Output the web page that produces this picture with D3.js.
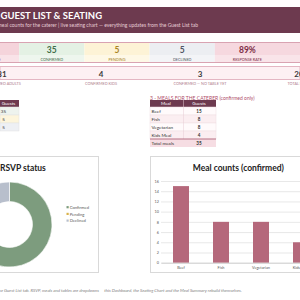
<!DOCTYPE html>
<html>
<head>
<meta charset="utf-8">
<script src="https://cdn.jsdelivr.net/npm/d3@7"></script>
<style>
  body { margin: 0; background: #fff; overflow: hidden; }
  svg { display: block; font-family: Lato, "Open Sans", sans-serif; }
</style>
</head>
<body>
<div id="dash"></div>
<script>
// values
const kpiLabels = ["TOTAL INVITED", "CONFIRMED", "PENDING", "DECLINED", "RESPONSE RATE"];
const kpiValues = ["45", "35", "5", "5", "89%"];
const seatLabels = ["CONFIRMED ADULTS", "CONFIRMED KIDS", "CONFIRMED — NO TABLE YET", "TOTAL SEATS"];
const seatValues = [31, 4, 3, 20];
const rsvpStatus = ["Confirmed", "Pending", "Declined"];
const rsvpCounts = [35, 5, 5];
const meals = ["Beef", "Fish", "Vegetarian", "Kids Meal"];
const mealCounts = [15, 8, 8, 4];
const yTicks = [0, 2, 4, 6, 8, 10, 12, 14, 16];

const W = 300, H = 300;
const maroon = "#6d3a4f";

const svg = d3.select("#dash").append("svg")
    .attr("width", W)
    .attr("height", H);

// header bar
svg.append("rect").attr("x", 0).attr("y", 7).attr("width", W).attr("height", 26).attr("fill", maroon);
svg.append("text").attr("x", 0.5).attr("y", 19)
    .attr("fill", "#fff").attr("font-weight", 700).attr("font-size", 9.5)
    .text("GUEST LIST & SEATING");
svg.append("text").attr("x", 198).attr("y", 26.5).attr("text-anchor", "end")
    .attr("fill", "#e6cbd5").attr("font-size", 5)
    .text("Track RSVPs, meal counts for the caterer  |  live seating chart — everything updates from the Guest List tab");

// KPI row
const kpiBg = ["#f5d4db", "#e4f1e4", "#fdf3d6", "#eceef2", "#f6d8df"];
const kpiLabelBg = ["#f9e3e8", "#eef6ee", "#fef8e6", "#f3f4f7", "#f9e4e9"];
const kpiInk = ["#7b2d46", "#3f6d48", "#a8841f", "#4f5461", "#7b2d46"];
const kx = d3.scaleBand().domain(kpiLabels).range([-46, 280]);
const kpi = svg.append("g").selectAll("g").data(kpiLabels).join("g");
kpi.append("rect")
    .attr("x", d => kx(d)).attr("y", 43)
    .attr("width", (d, i) => i === kpiLabels.length - 1 ? W - kx(d) : kx.bandwidth())
    .attr("height", 12).attr("fill", (d, i) => kpiBg[i]);
kpi.append("rect")
    .attr("x", d => kx(d)).attr("y", 55)
    .attr("width", (d, i) => i === kpiLabels.length - 1 ? W - kx(d) : kx.bandwidth())
    .attr("height", 7).attr("fill", (d, i) => kpiLabelBg[i]);
kpi.append("text")
    .attr("x", d => kx(d) + kx.bandwidth() / 2).attr("y", 53)
    .attr("text-anchor", "middle").attr("font-size", 8.5).attr("font-weight", 700)
    .attr("fill", (d, i) => kpiInk[i])
    .text((d, i) => kpiValues[i]);
kpi.append("text")
    .attr("x", d => kx(d) + kx.bandwidth() / 2).attr("y", 60.5)
    .attr("text-anchor", "middle").attr("font-size", 3.8)
    .attr("fill", (d, i) => kpiInk[i])
    .text(d => d);
svg.append("line").attr("x1", 0).attr("x2", W).attr("y1", 42.5).attr("y2", 42.5).attr("stroke", "#d9a3b2");
svg.append("line").attr("x1", 0).attr("x2", W).attr("y1", 62.5).attr("y2", 62.5).attr("stroke", "#d9a3b2");

// seating row
const sx = d3.scalePoint().domain(seatLabels).range([2, 299]);
svg.append("rect").attr("x", 0).attr("y", 66.5).attr("width", W).attr("height", 13)
    .attr("fill", "#fdf0f3").attr("stroke", "#e4b6c3");
const seat = svg.append("g").selectAll("g").data(seatLabels).join("g");
seat.append("text")
    .attr("x", d => sx(d)).attr("y", 76.5)
    .attr("text-anchor", "middle").attr("font-size", 8).attr("font-weight", 700)
    .attr("fill", "#3a3a3a")
    .text((d, i) => seatValues[i]);
seat.append("text")
    .attr("x", d => sx(d)).attr("y", 85)
    .attr("text-anchor", "middle").attr("font-size", 3.8)
    .attr("fill", "#b07d8c")
    .text(d => d);

// section header for meals
svg.append("text").attr("x", 150).attr("y", 100)
    .attr("fill", "#b04f6b").attr("font-size", 5)
    .text("3 - MEALS FOR THE CATERER (confirmed only)");

// RSVP summary table (mostly off screen)
const rowY = d3.scaleBand().domain(d3.range(5)).range([107, 147]);
svg.append("rect").attr("x", 0).attr("y", 100).attr("width", 19).attr("height", 7).attr("fill", maroon);
svg.append("text").attr("x", 8.5).attr("y", 105.3).attr("text-anchor", "middle")
    .attr("fill", "#fff").attr("font-size", 4.5).text("Guests");
const rsvpRowBg = ["#eef3ee", "#fdf5dc", "#eef0f4"];
const rsvpRow = svg.append("g").selectAll("g").data(rsvpStatus).join("g");
rsvpRow.append("rect")
    .attr("x", 0).attr("y", (d, i) => rowY(i)).attr("width", 19).attr("height", rowY.bandwidth())
    .attr("fill", (d, i) => rsvpRowBg[i]).attr("stroke", "#e2e2e2").attr("stroke-width", 0.5);
rsvpRow.append("text")
    .attr("x", 3.5).attr("y", (d, i) => rowY(i) + 5.6).attr("text-anchor", "middle")
    .attr("font-size", 4.6).attr("fill", "#333")
    .text((d, i) => rsvpCounts[i]);

// meal table
const mt = svg.append("g");
mt.append("rect").attr("x", 150).attr("y", 100).attr("width", 66).attr("height", 7).attr("fill", maroon);
mt.append("text").attr("x", 166).attr("y", 105.3).attr("text-anchor", "middle")
    .attr("fill", "#fff").attr("font-size", 4.5).text("Meal");
mt.append("text").attr("x", 199).attr("y", 105.3).attr("text-anchor", "middle")
    .attr("fill", "#fff").attr("font-size", 4.5).text("Guests");
const mealRow = mt.selectAll("g.row").data(meals).join("g").attr("class", "row");
mealRow.append("rect")
    .attr("x", 150).attr("y", (d, i) => rowY(i)).attr("width", 66).attr("height", rowY.bandwidth())
    .attr("fill", (d, i) => i % 2 ? "#fbeef1" : "#fffafb")
    .attr("stroke", "#eedde2").attr("stroke-width", 0.5);
mealRow.append("text")
    .attr("x", 151.5).attr("y", (d, i) => rowY(i) + 5.6)
    .attr("font-size", 4.6).attr("fill", "#333").text(d => d);
mealRow.append("text")
    .attr("x", 199).attr("y", (d, i) => rowY(i) + 5.6).attr("text-anchor", "middle")
    .attr("font-size", 4.6).attr("font-weight", 700).attr("fill", "#333")
    .text((d, i) => mealCounts[i]);
mt.append("line").attr("x1", 183.5).attr("x2", 183.5).attr("y1", 100).attr("y2", 147).attr("stroke", "#e6cdd4").attr("stroke-width", 0.5);
mt.append("rect").attr("x", 150).attr("y", rowY(4)).attr("width", 66).attr("height", rowY.bandwidth())
    .attr("fill", "#f6dde3");
mt.append("line").attr("x1", 150).attr("x2", 216).attr("y1", rowY(4)).attr("y2", rowY(4))
    .attr("stroke", "#a85870").attr("stroke-width", 0.8);
mt.append("text").attr("x", 151.5).attr("y", rowY(4) + 5.6)
    .attr("font-size", 4.6).attr("fill", "#333").text("Total meals");
mt.append("text").attr("x", 199).attr("y", rowY(4) + 5.6).attr("text-anchor", "middle")
    .attr("font-size", 4.6).attr("font-weight", 700).attr("fill", "#333")
    .text(d3.sum(mealCounts));

// chart frames
svg.append("rect").attr("x", -5.5).attr("y", 156.5).attr("width", 104).attr("height", 116)
    .attr("fill", "#fff").attr("stroke", "#d9d9d9");
svg.append("rect").attr("x", 150.5).attr("y", 156.5).attr("width", 160).attr("height", 116)
    .attr("fill", "#fff").attr("stroke", "#d9d9d9");

// RSVP donut
const pieColor = d3.scaleOrdinal().domain(rsvpStatus).range(["#7d9c7e", "#d9b24a", "#b8bfcc"]);
const pie = d3.pie().sort(null).value((d, i) => rsvpCounts[i]);
const arc = d3.arc().innerRadius(23).outerRadius(42.5);
svg.append("text").attr("x", 0).attr("y", 170.5)
    .attr("font-size", 8.5).attr("font-weight", 700).attr("fill", "#222").text("RSVP status");
svg.append("g").attr("transform", "translate(9.5,224.5)")
    .selectAll("path").data(pie(rsvpStatus)).join("path")
    .attr("d", arc).attr("fill", d => pieColor(d.data))
    .attr("stroke", "#fff").attr("stroke-width", 0.6);
const legend = svg.append("g").selectAll("g").data(rsvpStatus).join("g")
    .attr("transform", (d, i) => `translate(66.5,${207.3 + i * 6.7})`);
legend.append("rect").attr("x", 0).attr("y", -1.2).attr("width", 2.2).attr("height", 2.2)
    .attr("fill", d => pieColor(d));
legend.append("text").attr("x", 3.2).attr("y", 1.5).attr("font-size", 4.2).attr("fill", "#595959").text(d => d);

// meal bar chart
const x = d3.scaleBand().domain(meals).range([161, 321]).paddingInner(0.6).paddingOuter(0.3);
const y = d3.scaleLinear().domain([0, 16]).range([262.7, 181]);
svg.append("text").attr("x", 238.3).attr("y", 170.7).attr("text-anchor", "middle")
    .attr("font-size", 8.5).attr("font-weight", 700).attr("fill", "#222").text("Meal counts (confirmed)");
const yAxis = svg.append("g").attr("transform", "translate(161,0)")
    .call(d3.axisLeft(y).tickValues(yTicks).tickSize(-160).tickPadding(2));
yAxis.select(".domain").remove();
yAxis.selectAll(".tick line").attr("stroke", "#d9d9d9").attr("stroke-width", 0.6);
yAxis.selectAll(".tick text").attr("font-size", 3.8).attr("fill", "#595959").attr("font-family", "Lato, sans-serif");
svg.append("g").selectAll("rect").data(meals).join("rect")
    .attr("x", d => x(d)).attr("width", x.bandwidth())
    .attr("y", (d, i) => y(mealCounts[i])).attr("height", (d, i) => y(0) - y(mealCounts[i]))
    .attr("fill", "#b5687b");
const xAxis = svg.append("g").attr("transform", `translate(0,${y(0)})`)
    .call(d3.axisBottom(x).tickSize(0).tickPadding(3.5));
xAxis.select(".domain").attr("stroke", "#bfbfbf").attr("stroke-width", 0.6);
xAxis.selectAll(".tick text").attr("font-size", 3.8).attr("fill", "#595959").attr("font-family", "Lato, sans-serif");

// footnote
svg.append("text").attr("x", 241.7).attr("y", 291.5).attr("text-anchor", "end")
    .attr("font-size", 4.3).attr("font-style", "italic").attr("fill", "#808080")
    .text("Tip: fill in the Guest List tab. RSVP, meals and tables are dropdowns — this Dashboard, the Seating Chart and the Meal Summary rebuild themselves.");
</script>
</body>
</html>
